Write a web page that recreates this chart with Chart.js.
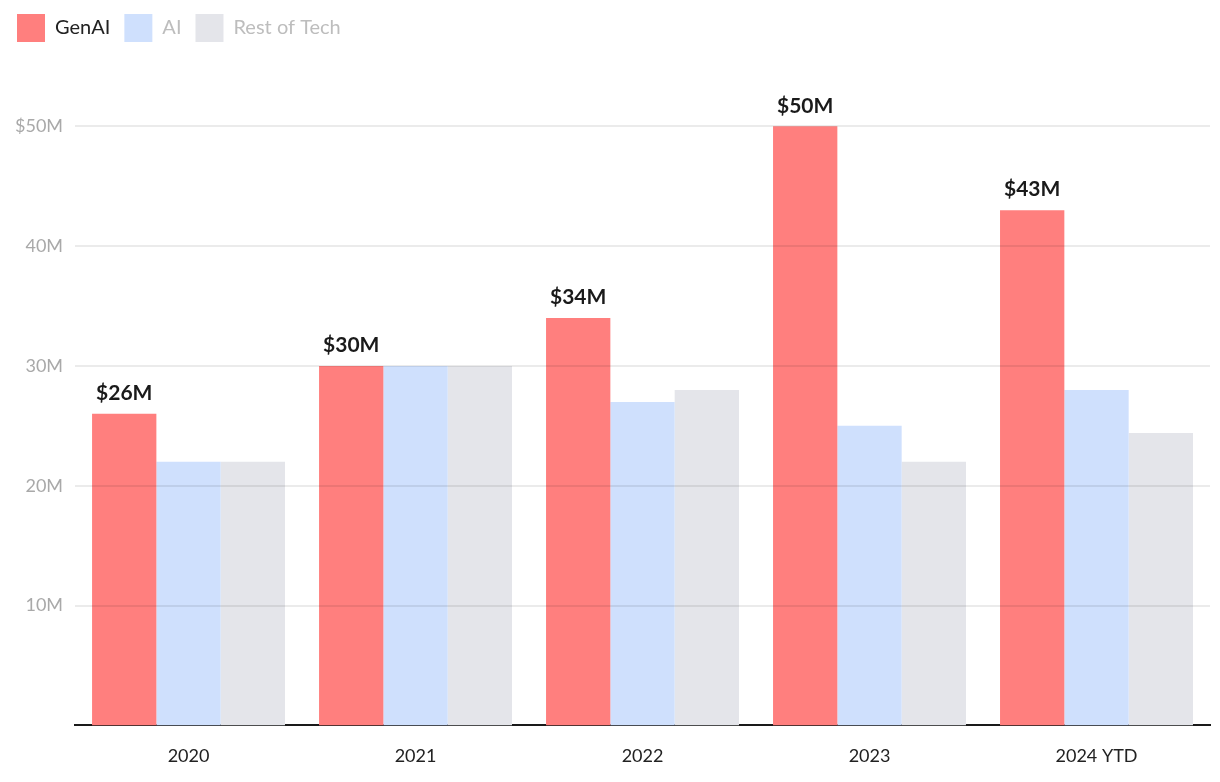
<!DOCTYPE html>
<html lang="en">
<head>
  <meta charset="UTF-8">
  <title>GenAI vs AI vs Rest of Tech</title>
  <script src="https://cdn.jsdelivr.net/npm/chart.js@4.4.0/dist/chart.umd.min.js"></script>
  <style>
    html, body { margin: 0; padding: 0; background: #fff; }
    #wrap { width: 1220px; height: 782px; }
  </style>
</head>
<body>
<div id="wrap"><canvas id="chart"></canvas></div>
<script>
  // data (in $M)
  const years   = ['2020', '2021', '2022', '2023', '2024 YTD'];
  const genAI   = [26, 30, 34, 50, 43];
  const ai      = [22, 30, 27, 25, 28];
  const restTech = [22, 30, 28, 22, 24.4];
  const yTicks  = [10, 20, 30, 40, 50];

  const FONT = 'Lato, "Noto Sans", sans-serif';

  // labels above the GenAI bars
  const valueLabels = {
    id: 'valueLabels',
    afterDatasetsDraw(chart) {
      const ctx = chart.ctx;
      const meta = chart.getDatasetMeta(0);
      ctx.save();
      ctx.font = 'bold 21px ' + FONT;
      ctx.fillStyle = '#1a1a1a';
      ctx.textAlign = 'center';
      ctx.textBaseline = 'bottom';
      meta.data.forEach((bar, i) => {
        ctx.fillText('$' + genAI[i] + 'M', bar.x, bar.y - 10);
      });
      ctx.restore();
    }
  };

  new Chart(document.getElementById('chart'), {
    type: 'bar',
    data: {
      labels: years,
      datasets: [
        { label: 'GenAI', data: genAI, backgroundColor: '#ff7f7e' },
        { label: 'AI', data: ai, backgroundColor: '#cfe0fd' },
        { label: 'Rest of Tech', data: restTech, backgroundColor: '#e4e5ea' }
      ]
    },
    options: {
      responsive: true,
      maintainAspectRatio: false,
      animation: false,
      layout: { padding: { left: 3, right: 10, top: 0, bottom: 3 } },
      datasets: { bar: { barPercentage: 1, categoryPercentage: 0.85 } },
      plugins: {
        tooltip: { enabled: false },
        legend: {
          align: 'start',
          labels: {
            boxWidth: 28, boxHeight: 28, padding: 14,
            font: { family: FONT, size: 20 },
            generateLabels(chart) {
              const items = Chart.defaults.plugins.legend.labels.generateLabels(chart);
              items.forEach((it, i) => {
                it.fontColor = i === 0 ? '#222' : '#bdbdbd';
                it.lineWidth = 0;
              });
              return items;
            }
          },
          onClick: null
        }
      },
      scales: {
        x: {
          grid: { display: false },
          border: { color: '#1a1a1a', width: 2 },
          ticks: { color: '#222', font: { family: FONT, size: 18 }, padding: 12 }
        },
        y: {
          min: 0,
          max: 56.2,
          afterBuildTicks(scale) { scale.ticks = yTicks.map(v => ({ value: v })); },
          grid: { color: 'rgba(0,0,0,0.08)', lineWidth: 2, drawTicks: false, z: 1 },
          border: { display: false },
          ticks: {
            color: '#a9a9a9',
            padding: 12,
            font: { family: FONT, size: 18 },
            callback: v => (v === 50 ? '$' : '') + v + 'M'
          }
        }
      }
    },
    plugins: [valueLabels]
  });
</script>
</body>
</html>
